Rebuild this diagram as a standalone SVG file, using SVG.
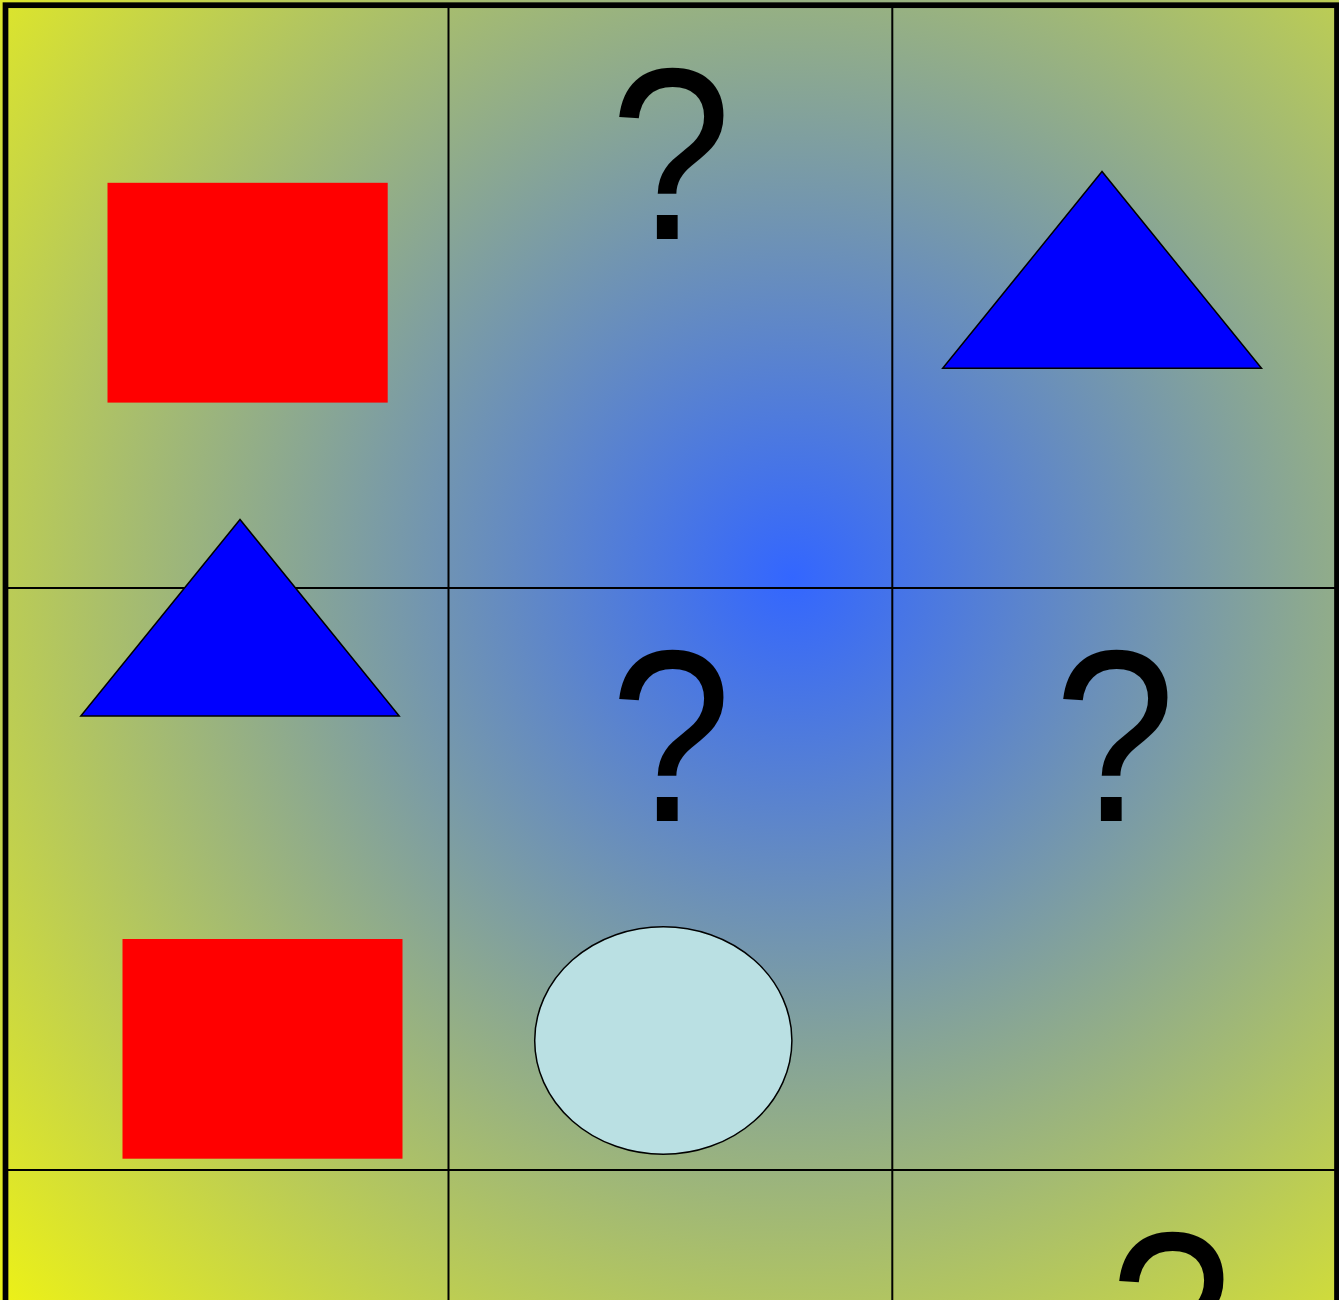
<svg xmlns="http://www.w3.org/2000/svg" width="1339" height="1300" viewBox="0 0 1339 1300">
  <defs>
    <radialGradient id="bg" gradientUnits="userSpaceOnUse" cx="792" cy="578" r="1180">
      <stop offset="0" stop-color="#3366ff"/>
      <stop offset="1" stop-color="#ffff00"/>
    </radialGradient>
    <style>
      .grid { stroke: #000; stroke-width: 2; fill: none; }
      .sq { fill: #ff0000; }
      .tri { fill: #0000ff; stroke: #000; stroke-width: 1.5; }
      .ell { fill: #bae0e3; stroke: #000; stroke-width: 1.5; }
      .q { font-family: "Liberation Sans", Arial, sans-serif; font-size: 245px; fill: #000; text-anchor: middle; }
    </style>
  </defs>
  <rect x="0" y="0" width="1339" height="1300" fill="url(#bg)"/>
  <g id="connectors">
    <line class="grid" x1="448.5" y1="5" x2="448.5" y2="1300"/>
    <line class="grid" x1="892.3" y1="5" x2="892.3" y2="1300"/>
    <line class="grid" x1="5" y1="588" x2="1337" y2="588"/>
    <line class="grid" x1="5" y1="1170" x2="1337" y2="1170"/>
  </g>
  <rect x="5.5" y="5.2" width="1331.5" height="1800" fill="none" stroke="#000" stroke-width="5.7"/>
  <g id="square1"><rect class="sq" x="107.5" y="182.8" width="280.2" height="219.8"/></g>
  <g id="question1"><text class="q" transform="translate(671,238.5) scale(0.89,1)" x="0" y="0">?</text></g>
  <g id="triangle1"><polygon class="tri" points="1102,171.5 942.7,368.3 1261.5,368.3"/></g>
  <g id="triangle2"><polygon class="tri" points="240,519.5 80.8,716 399.2,716"/></g>
  <g id="question2"><text class="q" transform="translate(671,820.5) scale(0.89,1)" x="0" y="0">?</text></g>
  <g id="question3"><text class="q" transform="translate(1115,820.7) scale(0.89,1)" x="0" y="0">?</text></g>
  <g id="square2"><rect class="sq" x="122.5" y="939" width="280" height="219.7"/></g>
  <g id="ellipse1"><ellipse class="ell" cx="663.3" cy="1040.5" rx="128.6" ry="113.8"/></g>
  <g id="question4"><text class="q" transform="translate(1171,1403) scale(0.89,1)" x="0" y="0">?</text></g>
</svg>
